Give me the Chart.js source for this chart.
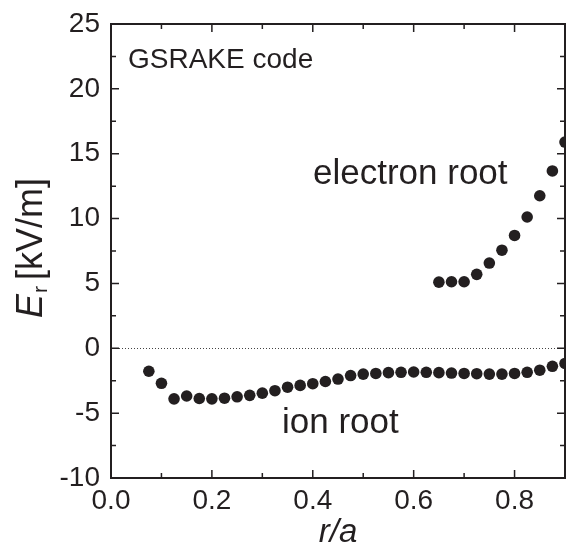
<!DOCTYPE html>
<html>
<head>
<meta charset="utf-8">
<script src="https://cdn.jsdelivr.net/npm/chart.js@4"></script>
<style>
  body { margin: 0; background: #fff; }
  canvas { display: block; }
</style>
</head>
<body>
<canvas id="chart" width="567" height="556"></canvas>
<script>
// Radial electric field E_r vs r/a (GSRAKE code), ion root and electron root

const ionR = [0.075, 0.1, 0.125, 0.15, 0.175, 0.2, 0.225, 0.25, 0.275, 0.3, 0.325, 0.35,
  0.375, 0.4, 0.425, 0.45, 0.475, 0.5, 0.525, 0.55, 0.575, 0.6, 0.625, 0.65, 0.675, 0.7,
  0.725, 0.75, 0.775, 0.8, 0.825, 0.85, 0.875, 0.9];
const ionEr = [-1.77, -2.70, -3.90, -3.68, -3.87, -3.90, -3.85, -3.74, -3.63, -3.46, -3.27, -3.00,
  -2.86, -2.73, -2.56, -2.37, -2.10, -1.99, -1.94, -1.88, -1.85, -1.83, -1.85, -1.88, -1.91, -1.94,
  -1.96, -1.99, -1.99, -1.94, -1.85, -1.69, -1.39, -1.17];

const elecR = [0.65, 0.675, 0.7, 0.725, 0.75, 0.775, 0.8, 0.825, 0.85, 0.875, 0.9];
const elecEr = [5.10, 5.13, 5.13, 5.70, 6.57, 7.56, 8.70, 10.12, 11.76, 13.67, 15.90];

const xLabelTicks = [0, 0.2, 0.4, 0.6, 0.8];
const yLabelTicks = [-10, -5, 0, 5, 10, 15, 20, 25];

const ink = '#231f20';
const fontFam = '"Liberation Sans", Arial, sans-serif';

Chart.defaults.font.family = fontFam;
Chart.defaults.color = ink;

function isLabelled(v, list) {
  return list.some(t => Math.abs(t - v) < 1e-6);
}

// Frame with inward ticks on all four sides, dotted zero line and the text notes
const framePlugin = {
  id: 'frame',
  afterDatasetsDraw(chart) {
    const { ctx, chartArea: a, scales: { x, y } } = chart;
    ctx.save();

    // dotted zero line
    ctx.strokeStyle = '#444';
    ctx.lineWidth = 1;
    ctx.setLineDash([1, 2]);
    ctx.beginPath();
    ctx.moveTo(a.left + 8, Math.round(y.getPixelForValue(0)) + 0.5);
    ctx.lineTo(a.right, Math.round(y.getPixelForValue(0)) + 0.5);
    ctx.stroke();
    ctx.setLineDash([]);

    // frame
    ctx.strokeStyle = ink;
    ctx.lineWidth = 2;
    ctx.strokeRect(a.left, a.top, a.right - a.left, a.bottom - a.top);

    // ticks
    ctx.lineWidth = 1.5;
    ctx.beginPath();
    x.ticks.forEach(t => {
      const px = x.getPixelForValue(t.value);
      const len = isLabelled(t.value, xLabelTicks) ? 8 : 5;
      ctx.moveTo(px, a.bottom); ctx.lineTo(px, a.bottom - len);
      ctx.moveTo(px, a.top); ctx.lineTo(px, a.top + len);
    });
    y.ticks.forEach(t => {
      const py = y.getPixelForValue(t.value);
      const len = isLabelled(t.value, yLabelTicks) ? 8 : 5;
      ctx.moveTo(a.left, py); ctx.lineTo(a.left + len, py);
      ctx.moveTo(a.right, py); ctx.lineTo(a.right - len, py);
    });
    ctx.stroke();

    // notes
    ctx.fillStyle = ink;
    ctx.textBaseline = 'alphabetic';
    ctx.textAlign = 'left';
    ctx.font = '28px ' + fontFam;
    ctx.fillText('GSRAKE code', 128, 68);
    ctx.font = '35px ' + fontFam;
    ctx.fillText('electron root', 313, 184);
    ctx.fillText('ion root', 282, 433);

    // x axis title
    ctx.textAlign = 'center';
    ctx.font = 'italic 33px ' + fontFam;
    ctx.fillText('r/a', 338, 542);

    // y axis title: E_r [kV/m]
    ctx.translate(42, 318);
    ctx.rotate(-Math.PI / 2);
    ctx.textAlign = 'left';
    ctx.font = 'italic 36px ' + fontFam;
    ctx.fillText('E', 0, 0);
    const wE = ctx.measureText('E').width;
    ctx.font = '21px ' + fontFam;
    ctx.fillText('r', wE + 1, 5);
    const wr = ctx.measureText('r').width;
    ctx.font = '36px ' + fontFam;
    ctx.fillText('[kV/m]', wE + wr + 7, 0);

    ctx.restore();
  }
};

const pointStyle = {
  showLine: false,
  pointRadius: 5.8,
  pointHoverRadius: 5.8,
  pointBackgroundColor: ink,
  pointBorderColor: ink,
  pointBorderWidth: 0,
  clip: 0
};

new Chart(document.getElementById('chart'), {
  type: 'scatter',
  data: {
    datasets: [
      Object.assign({ label: 'ion root', data: ionR.map((r, i) => ({ x: r, y: ionEr[i] })) }, pointStyle),
      Object.assign({ label: 'electron root', data: elecR.map((r, i) => ({ x: r, y: elecEr[i] })) }, pointStyle)
    ]
  },
  options: {
    responsive: false,
    animation: false,
    layout: { autoPadding: false, padding: { left: 0, top: 24, right: 2, bottom: 0 } },
    plugins: { legend: { display: false }, tooltip: { enabled: false } },
    scales: {
      x: {
        type: 'linear',
        min: 0,
        max: 0.9,
        grid: { display: false, drawTicks: false },
        border: { display: false },
        ticks: {
          stepSize: 0.1,
          padding: 6,
          maxRotation: 0,
          autoSkip: false,
          font: { size: 28 },
          color: ink,
          callback: v => isLabelled(v, xLabelTicks) ? v.toFixed(1) : ''
        },
        afterFit: s => { s.height = 78; s.paddingLeft = 0; s.paddingRight = 0; }
      },
      y: {
        type: 'linear',
        min: -10,
        max: 25,
        grid: { display: false, drawTicks: false },
        border: { display: false },
        ticks: {
          stepSize: 2.5,
          padding: 11,
          autoSkip: false,
          font: { size: 28 },
          color: ink,
          callback: v => isLabelled(v, yLabelTicks) ? String(v) : ''
        },
        afterFit: s => { s.width = 111; s.paddingTop = 0; s.paddingBottom = 0; }
      }
    }
  },
  plugins: [framePlugin]
});
</script>
</body>
</html>
